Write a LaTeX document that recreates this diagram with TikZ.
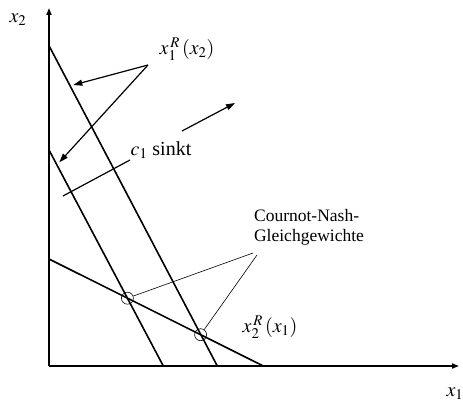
\documentclass[tikz,border=0pt]{standalone}
\usepackage{mathptmx}
\usepackage{fontspec}
\setmainfont{Liberation Serif}
\usetikzlibrary{arrows.meta}
\begin{document}
\begin{tikzpicture}[x=1pt,y=-1pt,
  axis/.style={line width=1.6pt,-{Triangle[length=7pt,width=5pt]}},
  curve/.style={line width=1.6pt},
  pointer/.style={line width=1.2pt,-{Triangle[length=9pt,width=6pt]}},
  thinline/.style={line width=0.6pt},
  eq/.style={circle,draw,line width=0.6pt,minimum size=12pt,inner sep=0pt},
  lbl/.style={font=\fontsize{17.5}{20}\selectfont,inner sep=0pt},
  mlbl/.style={font=\fontsize{20}{22}\selectfont,inner sep=0pt}]
\useasboundingbox (0,0) rectangle (463,404);
% axes
\coordinate (O) at (49,366);
\coordinate (Ytip) at (49,8);
\coordinate (Xtip) at (459,366);
\draw[axis] (O) -- (Ytip);
\draw[axis] (O) -- (Xtip);
\node[mlbl] (lx2) at (18,20) {$x_2$};
\node[mlbl] (lx1) at (455,394) {$x_1$};
% reaction curves
\coordinate (A1) at (49,45.7);  \coordinate (A2) at (217.3,366);
\coordinate (B1) at (49,150);   \coordinate (B2) at (163.3,366);
\coordinate (C1) at (49,259);   \coordinate (C2) at (263.3,366);
\draw[curve] (A1) -- (A2);
\draw[curve] (B1) -- (B2);
\draw[curve] (C1) -- (C2);
% equilibria
\node[eq] (E1) at (127.4,298.2) {};
\node[eq] (E2) at (200.6,334.7) {};
% labels
\node[mlbl] (x1R) at (187,49) {$x_1^{\,R}\,(x_2)$};
\coordinate (P) at (148,65);
\coordinate (TA) at (73.3,85);
\coordinate (TB) at (59.3,162.3);
\draw[pointer] (P) -- (TA);
\draw[pointer] (P) -- (TB);
% shift arrow
\node[mlbl] (c1) at (161,150) {$c_1$ sinkt};
\coordinate (S1) at (63,196);
\coordinate (S2) at (130,160);
\coordinate (S3) at (182,131);
\coordinate (S4) at (235,103);
\draw[line width=1.2pt] (S1) -- (S2);
\draw[pointer] (S3) -- (S4);
% Cournot-Nash label
\node[lbl,align=left] (CN) at (309,227) {Cournot-Nash-\\Gleichgewichte};
\coordinate (L1) at (253,253);
\coordinate (L2) at (257,255);
\draw[thinline] (L1) -- (E1);
\draw[thinline] (L2) -- (E2);
\node[mlbl] (x2R) at (270,327) {$x_2^{\,R}\,(x_1)$};
\end{tikzpicture}
\end{document}
